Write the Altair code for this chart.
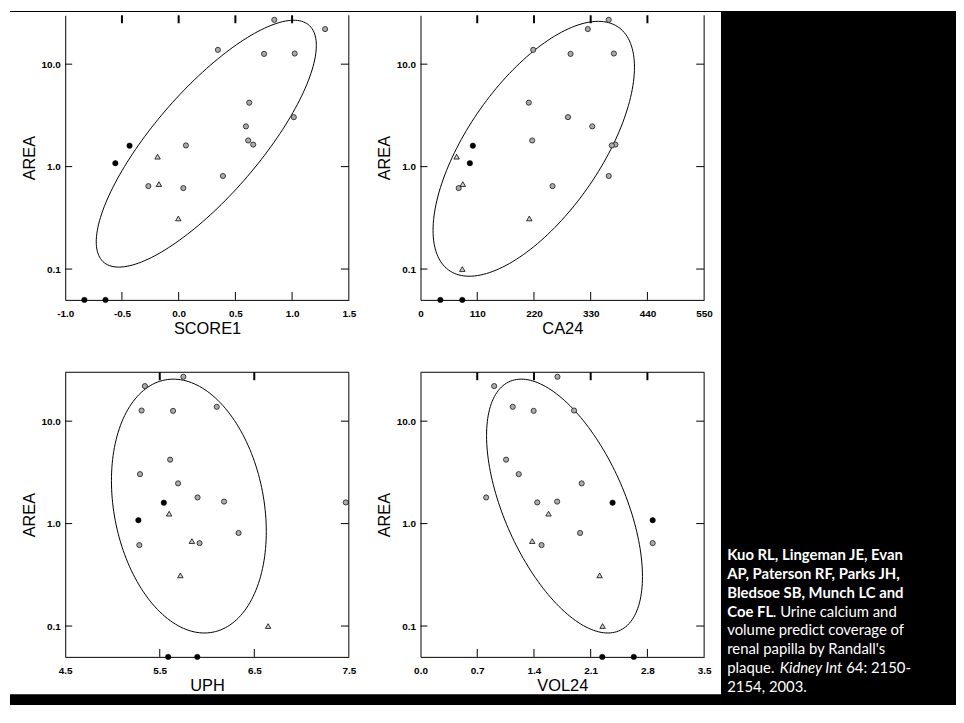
import math
import altair as alt
import pandas as pd

# ---------------- data ----------------
AREA_GRAY = [27.1, 22.0, 13.8, 12.7, 12.6, 4.21, 3.04, 2.47, 1.80, 1.64, 1.61, 0.81, 0.645, 0.617]
AREA_BLACK = [1.60, 1.08, 0.05, 0.05]
AREA_TRI = [1.25, 0.675, 0.312, 0.10]

SCORE1_GRAY = [0.843, 1.291, 0.346, 1.023, 0.753, 0.622, 1.015, 0.593, 0.613, 0.657, 0.064, 0.390, -0.267, 0.041]
SCORE1_BLACK = [-0.433, -0.558, -0.831, -0.645]
SCORE1_TRI = [-0.186, -0.174, -0.003]

CA24_GRAY = [365, 324.5, 218.5, 375, 291, 210, 286, 333, 216.5, 378, 371, 365, 256, 74]
CA24_BLACK = [101.5, 95.7, 38.5, 81]
CA24_TRI = [70, 82, 211, 81]

UPH_GRAY = [5.75, 5.343, 6.103, 5.308, 5.641, 5.61, 5.291, 5.694, 5.90, 6.18, 7.468, 6.334, 5.921, 5.284]
UPH_BLACK = [5.543, 5.274, 5.589, 5.897]
UPH_TRI = [5.599, 5.84, 5.718, 6.646]

VOL24_GRAY = [1.69, 0.909, 1.138, 1.895, 1.396, 1.056, 1.212, 1.989, 0.810, 1.686, 1.441, 1.969, 2.865, 1.494]
VOL24_BLACK = [2.370, 2.865, 2.243, 2.632]
VOL24_TRI = [1.58, 1.379, 2.21, 2.247]

# ellipse: centre x, half-width x, centre log10(AREA), half-height (decades), correlation
ELL_SCORE1 = (0.2435, 0.970, 0.224, 1.205, 0.795)
ELL_CA24 = (219.6, 195.3, 0.174, 1.244, 0.64)
ELL_UPH = (5.808, 0.819, 0.171, 1.239, -0.20)
ELL_VOL24 = (1.777, 0.962, 0.171, 1.239, -0.555)

Y_TICKS = [0.1, 1, 10]
Y_DOMAIN = [0.05, 30]

CITE_BOLD = ["Kuo RL, Lingeman JE, Evan", "AP, Paterson RF, Parks JH,", "Bledsoe SB, Munch LC and", "Coe FL"]
CITE_L4 = ". Urine calcium and"
CITE_REG = ["volume predict coverage of", "renal papilla by Randall's"]
CITE_L7 = ["plaque.", "Kidney Int", "64: 2150-"]
CITE_L8 = "2154, 2003."

# ---------------- layout (one view holding the four panels) ----------------
W, H = 286, 287
COL2_X = 358.3        # left edge of the right-hand panels
ROW2_Y = 360          # top edge of the lower panels
VW = COL2_X + W
VH = ROW2_Y + H
PAD_L, PAD_T = 57.7, 4.4
PAD_R = 956 - PAD_L - VW
PAD_B = 700 - PAD_T - VH
LABEL_FONT = "Liberation Sans"
ONE = pd.DataFrame({"k": [0]})


def ellipse_df(p, n=180):
    x0, rx, v0, ry, rho = p
    d = math.acos(rho)
    xs, ys, idx = [], [], []
    for i in range(n + 1):
        t = 2 * math.pi * i / n
        xs.append(x0 + rx * math.cos(t))
        ys.append(10 ** (v0 + ry * math.cos(t - d)))
        idx.append(i)
    return pd.DataFrame({"x": xs, "y": ys, "i": idx})


def panel(title, xdom, xvals, xfmt, gx, bx, tx, ell, ox, oy, top_frame):
    xs = alt.Scale(domain=xdom, nice=False, zero=False, range=[ox, ox + W])
    ys = alt.Scale(type="log", domain=Y_DOMAIN, nice=False, range=[oy + H, oy])
    common = dict(grid=False, ticks=True, tickSize=0, tickColor="transparent",
                  domain=True, domainColor="black", domainWidth=1,
                  labelFlush=False, labelOverlap=False,
                  labelFont=LABEL_FONT, labelFontSize=10, labelFontWeight="bold", labelColor="black",
                  titleFont=LABEL_FONT, titleFontSize=16.5, titleFontWeight="normal", titleColor="black",
                  titleBaseline="middle", titleAlign="center")
    xax = alt.Axis(orient="bottom", offset=-(VH - (oy + H)), values=xvals, format=xfmt, title=title,
                   labelPadding=8.5, labelExpr="replace(datum.label, '\u2212', '-')",
                   titleX=ox + W / 2, titleY=29, **common)
    yax = alt.Axis(orient="left", offset=-ox, values=Y_TICKS, format=".1f", title="AREA",
                   labelPadding=5, titleAngle=270, titleX=-36, titleY=oy + H / 2, **common)
    X = alt.X("x:Q", scale=xs, axis=xax)
    Y = alt.Y("y:Q", scale=ys, axis=yax)

    inner = [v for v in xvals if xdom[0] < v < xdom[1]]
    xt = pd.DataFrame({"x": inner})
    yt = pd.DataFrame({"y": Y_TICKS})

    layers = [
        alt.Chart(ellipse_df(ell)).mark_line(color="black", strokeWidth=1).encode(x=X, y=Y, order="i:Q"),
        alt.Chart(pd.DataFrame({"x": gx, "y": AREA_GRAY[:len(gx)]})).mark_point(
            shape="circle", filled=True, fill="#ababab", stroke="#1a1a1a",
            strokeWidth=0.8, size=27, opacity=1).encode(x=X, y=Y),
        alt.Chart(pd.DataFrame({"x": bx, "y": AREA_BLACK[:len(bx)]})).mark_point(
            shape="circle", filled=True, fill="black", stroke="black",
            strokeWidth=0.5, size=30, opacity=1).encode(x=X, y=Y),
        alt.Chart(pd.DataFrame({"x": tx, "y": AREA_TRI[:len(tx)]})).mark_point(
            shape="triangle-up", filled=True, fill="#d4d4d4", stroke="black",
            strokeWidth=0.8, size=30, opacity=1).encode(x=X, y=Y),
        # inward ticks on all four sides
        alt.Chart(xt).mark_rule(color="black", strokeWidth=2).encode(
            x=X, y=alt.value(oy), y2=alt.value(oy + 8)),
        alt.Chart(xt).mark_rule(color="black", strokeWidth=1).encode(
            x=X, y=alt.value(oy + H - 8), y2=alt.value(oy + H)),
        alt.Chart(yt).mark_rule(color="black", strokeWidth=1).encode(
            y=Y, x=alt.value(ox), x2=alt.value(ox + 7)),
        alt.Chart(yt).mark_rule(color="black", strokeWidth=1).encode(
            y=Y, x=alt.value(ox + W - 8), x2=alt.value(ox + W)),
        # right frame line (and top one for the lower panels)
        alt.Chart(ONE).mark_rule(color="black", strokeWidth=1).encode(
            x=alt.value(ox + W), y=alt.value(oy), y2=alt.value(oy + H)),
    ]
    if top_frame:
        layers.append(alt.Chart(ONE).mark_rule(color="black", strokeWidth=1).encode(
            x=alt.value(ox), x2=alt.value(ox + W), y=alt.value(oy)))
    return alt.layer(*layers)


# black surroundings of the white figure area (view coordinates)
LEFT_EDGE = -55.7          # page x = 10
WHITE_RIGHT = 661.3        # page x = 727
TOP_Y = -4.4               # page y = 8
BOTTOM_Y = 695.6           # page y = 708


def black_rect(x, x2, y, y2):
    return alt.Chart(ONE).mark_rect(color="black").encode(
        x=alt.value(x), x2=alt.value(x2), y=alt.value(y), y2=alt.value(y2))


bands = [
    black_rect(LEFT_EDGE, WHITE_RIGHT, TOP_Y, TOP_Y + 1),
    black_rect(LEFT_EDGE, WHITE_RIGHT, 684.6, BOTTOM_Y),
    black_rect(WHITE_RIGHT, VW + PAD_R, TOP_Y, BOTTOM_Y),
]

# ---------------- citation text ----------------
FS = 15
LINE0 = 549.3
LH = 19
TX = 667.6


def seg(text, line, dx=0, weight="normal", style="normal"):
    return alt.Chart(ONE).mark_text(
        text=text, font="Lato", fontSize=FS, fontWeight=weight, fontStyle=style,
        color="white", align="left", baseline="alphabetic", lineHeight=LH, dx=dx
    ).encode(x=alt.value(TX), y=alt.value(LINE0 + LH * line))


cite = [
    seg(CITE_BOLD, 0, weight="bold"),
    seg(CITE_L4, 3, dx=46),
    seg(CITE_REG, 4),
    seg(CITE_L7[0], 6),
    seg(CITE_L7[1], 6, dx=53, style="italic"),
    seg(CITE_L7[2], 6, dx=120),
    seg(CITE_L8, 7),
]

p1 = panel("SCORE1", [-1.0, 1.5], [-1.0, -0.5, 0.0, 0.5, 1.0, 1.5], ".1f",
           SCORE1_GRAY, SCORE1_BLACK, SCORE1_TRI, ELL_SCORE1, 0, 0, False)
p2 = panel("CA24", [0, 550], [0, 110, 220, 330, 440, 550], "d",
           CA24_GRAY, CA24_BLACK, CA24_TRI, ELL_CA24, COL2_X, 0, False)
p3 = panel("UPH", [4.5, 7.5], [4.5, 5.5, 6.5, 7.5], ".1f",
           UPH_GRAY, UPH_BLACK, UPH_TRI, ELL_UPH, 0, ROW2_Y, True)
p4 = panel("VOL24", [0.0, 3.5], [0.0, 0.7, 1.4, 2.1, 2.8, 3.5], ".1f",
           VOL24_GRAY, VOL24_BLACK, VOL24_TRI, ELL_VOL24, COL2_X, ROW2_Y, True)

chart = alt.layer(*bands, p1, p2, p3, p4, *cite).resolve_scale(
    x="independent", y="independent"
).properties(
    width=VW, height=VH,
    background="white",
    autosize="none",
    padding={"left": PAD_L, "top": PAD_T, "right": PAD_R, "bottom": PAD_B},
).configure_view(stroke="transparent")

chart.save("out.html", embed_options={"renderer": "svg", "actions": False})
